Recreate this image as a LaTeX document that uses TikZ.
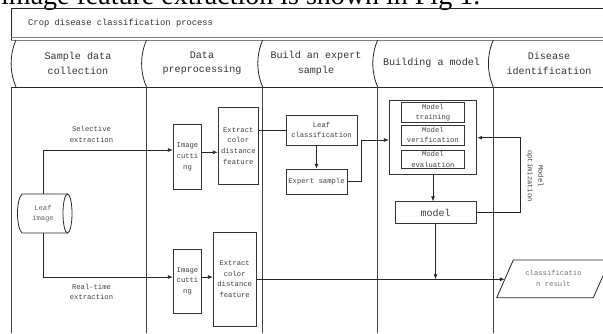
\documentclass[tikz,border=0pt]{standalone}
\usepackage{fontspec}
\setmainfont{Liberation Serif}
\setmonofont{Liberation Mono}
\usetikzlibrary{arrows.meta}

\newcommand\boxfont{\ttfamily\fontsize{7.2}{10.7}\selectfont}
\newcommand\headfont{\ttfamily\fontsize{10.1}{14.5}\selectfont}
\newcommand\titlefont{\ttfamily\fontsize{8.8}{11}\selectfont}

\tikzset{
  ln/.style={draw=black!85, line width=0.8pt},
  lane/.style={draw=black!75, line width=0.9pt},
  dbl/.style={draw=black!50, line width=0.8pt},
  box/.style={draw=black!80, line width=0.9pt, align=center, inner sep=0pt,
              font=\boxfont, text=black!75},
  lbl/.style={align=center, inner sep=0pt, font=\boxfont, text=black!75},
  head/.style={align=center, inner sep=0pt, font=\headfont, text=black!80},
  arr/.style={draw=black!85, line width=0.8pt, -{Latex[length=5pt,width=4pt]}},
}

\begin{document}
\begin{tikzpicture}[x=1pt,y=-1pt]
\useasboundingbox (0,0) rectangle (603,333);
\clip (0,0) rectangle (603,333);

% running text of the page above the figure
\node[anchor=base west, inner sep=0pt, font=\fontsize{28}{30}\selectfont]
  (caption) at (1,4) {image feature extraction is shown in Fig 1.};

% ---- frame, title bar and lane headers
\draw[ln] (603,8) -- (11,8) -- (11,40);
\node[anchor=west, inner sep=0pt, font=\titlefont, text=black!80] (title) at (28,23)
  {Crop disease classification process};
\draw[dbl] (11,37.3) -- (603,37.3);
\draw[dbl] (11,40) -- (603,40);
\draw[ln] (11,87) -- (603,87);

% curved header borders
\draw[ln] (16,40) .. controls (9.5,55) and (9.5,72) .. (16,87);
\foreach \xs in {146.5,262.7,377.7,493.3} {
  \draw[ln] (\xs,40) .. controls (\xs-6.5,55) and (\xs-6.5,72) .. (\xs,87);
  \draw[lane] (\xs,87) -- (\xs,333);
}
\draw[lane] (11,87) -- (11,333);

\node[head] (h1) at (78,63.3) {Sample data\\collection};
\node[head] (h2) at (202,63.3) {Data\\preprocessing};
\node[head] (h3) at (316,63.3) {Build an expert\\sample};
\node[head] (h4) at (431.5,63.3) {Building a model};
\node[head] (h5) at (549,63.3) {Disease\\identification};

% ---- sample data collection
\node[lbl, minimum height=39pt, text=black!60] (leaf) at (43,213.5) {Leaf\\image};
\draw[ln] (67.5,194) -- (22,194) .. controls (16,200) and (16,227) .. (22,233) -- (67.5,233);
\draw[ln] (67.5,213.5) ellipse [x radius=4.5, y radius=19.5];

\node[lbl] (sel) at (91.5,134.5) {Selective\\extraction};
\node[lbl] (rt) at (91.5,292) {Real-time\\extraction};

% ---- data preprocessing
\node[box, minimum width=28.4pt, minimum height=65pt] (cutA) at (187.5,156.8) {Image\\cutti\\ng};
\node[box, minimum width=40pt, minimum height=77pt] (extA) at (238.3,145.8)
  {Extract\\color\\distance\\feature};
\node[box, minimum width=28.4pt, minimum height=64pt] (cutB) at (187.5,281.3) {Image\\cutti\\ng};
\node[box, minimum width=42.7pt, minimum height=93.7pt] (extB) at (234.7,279.2)
  {Extract\\color\\distance\\feature};

% ---- expert sample
\node[box, minimum width=71pt, minimum height=30pt] (leafc) at (321.5,130) {Leaf\\classification};
\node[box, minimum width=61pt, minimum height=25pt] (expert) at (316.5,181.7) {Expert sample};

% ---- model
\node[box, minimum width=87.4pt, minimum height=74pt] (group) at (433,137) {};
\node[box, minimum width=62.3pt, minimum height=20pt] (mtrain) at (432.9,112.5) {Model\\training};
\node[box, minimum width=62.3pt, minimum height=20pt] (mverif) at (432.9,135) {Model\\verification};
\node[box, minimum width=62.3pt, minimum height=18.5pt] (meval) at (432.9,159.2) {Model\\evaluation};
\node[box, font=\ttfamily\fontsize{10}{12}\selectfont, minimum width=81pt, minimum height=21.5pt]
  (model) at (435.5,212.5) {model};
\node[lbl, rotate=-90] (optlbl) at (535,176) {Model\\optimization};

% ---- result
\draw[ln] (513.3,260) -- (610,260) -- (593.3,297.7) -- (496.7,297.7) -- cycle;
\node[lbl, text=black!55] (result) at (553.5,278.3) {classificatio\\n result};

% ---- connectors
\coordinate (selY) at (0,150);
\coordinate (rtY) at (0,277);
\coordinate (ayA) at (0,152.3);
\coordinate (bend1) at (361,140);
\coordinate (opt) at (520,137.7);
\coordinate (resin) at (504.8,279.3);

\draw[arr] (leaf.north) |- (selY -| cutA.west);
\draw[arr] (leaf.south) |- (rtY -| cutB.west);
\draw[arr] (ayA -| cutA.east) -- (ayA -| extA.west);
\draw[arr] (rtY -| cutB.east) -- (rtY -| extB.west);
\draw[ln] (leafc.west -| extA.east) -- (leafc.west);
\draw[arr] (leafc.south -| expert.north) -- (expert.north);
\draw[arr] (expert.east) -| (bend1) -- (bend1 -| group.west);
\draw[arr] (group.south) -- (group.south |- model.north);
\draw[arr] (model.east) -| (opt) -- (opt -| group.east);
\draw[arr] (extB.east |- resin) -- (resin);
\draw[arr] (model.south) -- (model.south |- resin);
\end{tikzpicture}
\end{document}
